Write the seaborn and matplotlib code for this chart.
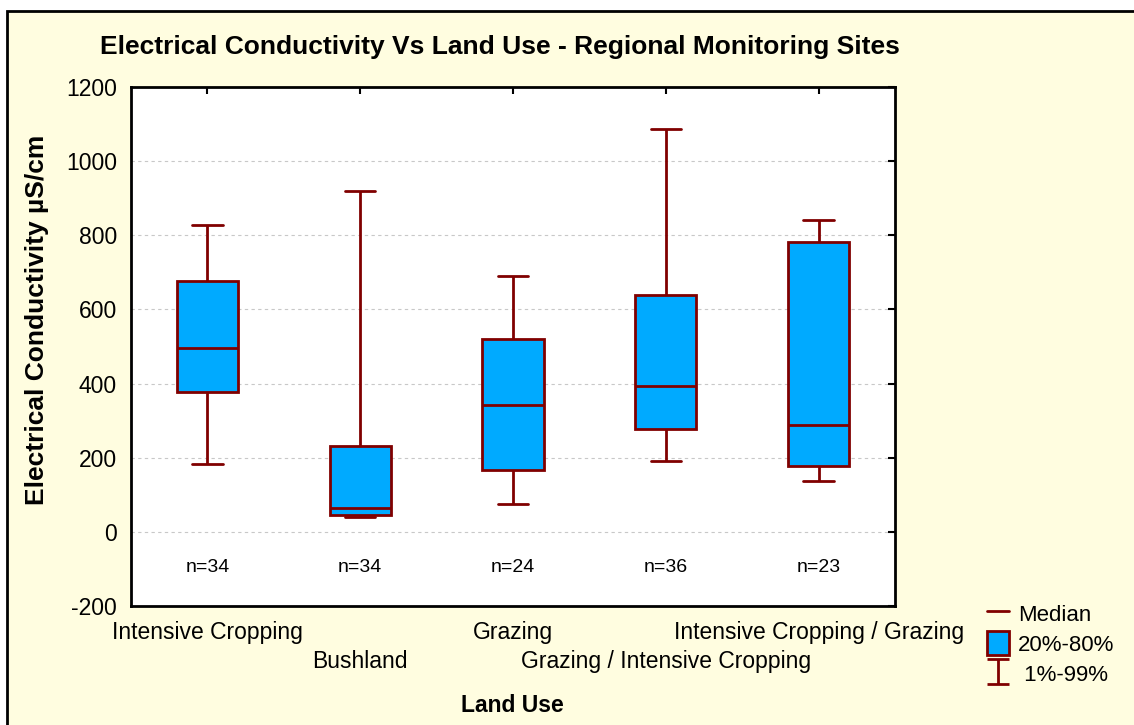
import seaborn as sns
import matplotlib.pyplot as plt
import pandas as pd
import numpy as np
from matplotlib.lines import Line2D
from matplotlib.patches import Patch, Rectangle
from matplotlib.path import Path

land_use = ['Intensive Cropping', 'Bushland', 'Grazing',
            'Grazing / Intensive Cropping', 'Intensive Cropping / Grazing']
p01 = [182, 40, 74, 191, 136]
p20 = [378, 46, 168, 278, 178]
p50 = [495, 65, 341, 394, 287]
p80 = [678, 232, 519, 638, 782]
p99 = [828, 919, 689, 1088, 840]
n_sites = [34, 34, 24, 36, 23]

# five points per group -> quartiles of the 5 points = 20/50/80, min/max = 1/99
rows = []
for i, lu in enumerate(land_use):
    for v in (p01[i], p20[i], p50[i], p80[i], p99[i]):
        rows.append((lu, v))
df = pd.DataFrame(rows, columns=['Land Use', 'EC'])

box_col = '#00AAFF'
edge_col = '#800000'
bg = '#FFFDE0'

sns.set_theme(style='white')
plt.rcParams['font.family'] = ['Liberation Sans', 'DejaVu Sans']
plt.rcParams['axes.unicode_minus'] = False
plt.rcParams['text.color'] = 'black'
plt.rcParams['xtick.color'] = 'black'
plt.rcParams['ytick.color'] = 'black'

fig = plt.figure(figsize=(11.34, 7.25), dpi=100, facecolor='white')
fig.patches.append(Rectangle((7 / 1134, -0.1), 1.2, 1.1 - 11 / 725,
                             transform=fig.transFigure, facecolor=bg,
                             edgecolor='black', linewidth=2, zorder=-1))
ax = fig.add_axes([131 / 1134, 1 - 606 / 725, (895 - 131) / 1134, (606 - 87) / 725])
ax.set_facecolor('white')

sns.boxplot(data=df, x='Land Use', y='EC', order=land_use, whis=(0, 100),
            width=0.4, color=box_col, saturation=1, linecolor=edge_col,
            linewidth=2, showfliers=False, ax=ax)

ax.set_ylim(-200, 1200)
ax.set_yticks(np.arange(-200, 1201, 200))
ax.set_xlim(-0.5, len(land_use) - 0.5)
ax.yaxis.grid(True, color='#C8C8C8', linestyle=(0, (3, 3)), linewidth=0.8)
ax.set_axisbelow(True)
for s in ax.spines.values():
    s.set_color('black')
    s.set_linewidth(2)
ax.tick_params(direction='in', length=5, width=1.5, color='black',
               labelcolor='black', top=True, right=True, labelsize=16.5)
ax.tick_params(axis='y', pad=10)
ax.set_xticks(range(len(land_use)))
ax.set_xticklabels(land_use)
# staggered labels: every second one on a lower row
for i, t in enumerate(ax.xaxis.get_major_ticks()):
    t.set_pad(11 if i % 2 == 0 else 32)
ax.set_xlabel('')
ax.set_ylabel('')

for i, n in enumerate(n_sites):
    ax.text(i, -95, f'n={n}', ha='center', va='center', fontsize=14)

fig.text(500 / 1134, 1 - 47 / 725,
         'Electrical Conductivity Vs Land Use - Regional Monitoring Sites',
         ha='center', va='center', fontsize=19, fontweight='bold')
fig.text(512 / 1134, 1 - 706 / 725, 'Land Use', ha='center', va='center',
         fontsize=16.5, fontweight='bold')
fig.text(37 / 1134, 1 - 320 / 725, 'Electrical Conductivity µS/cm', ha='center',
         va='center', rotation=90, fontsize=19, fontweight='bold')

ibeam = Path([(-0.85, 1), (0.85, 1), (0, 1), (0, -1), (-0.85, -1), (0.85, -1)],
             [Path.MOVETO, Path.LINETO, Path.MOVETO, Path.LINETO, Path.MOVETO, Path.LINETO])
handles = [
    Line2D([], [], color=edge_col, linewidth=2),
    Patch(facecolor=box_col, edgecolor=edge_col, linewidth=2),
    Line2D([], [], color=edge_col, marker=ibeam, markersize=18, linestyle='None',
           markeredgewidth=2, markerfacecolor='none'),
]
fig.legend(handles, ['Median', '20%-80%', ' 1%-99%'],
           loc='upper left', bbox_to_anchor=(967 / 1134, 1 - 581 / 725),
           frameon=False, fontsize=16, handlelength=1.0, handleheight=1.3,
           handletextpad=0.4, labelspacing=0.25)

plt.savefig('out.png', dpi=100)
plt.close()
